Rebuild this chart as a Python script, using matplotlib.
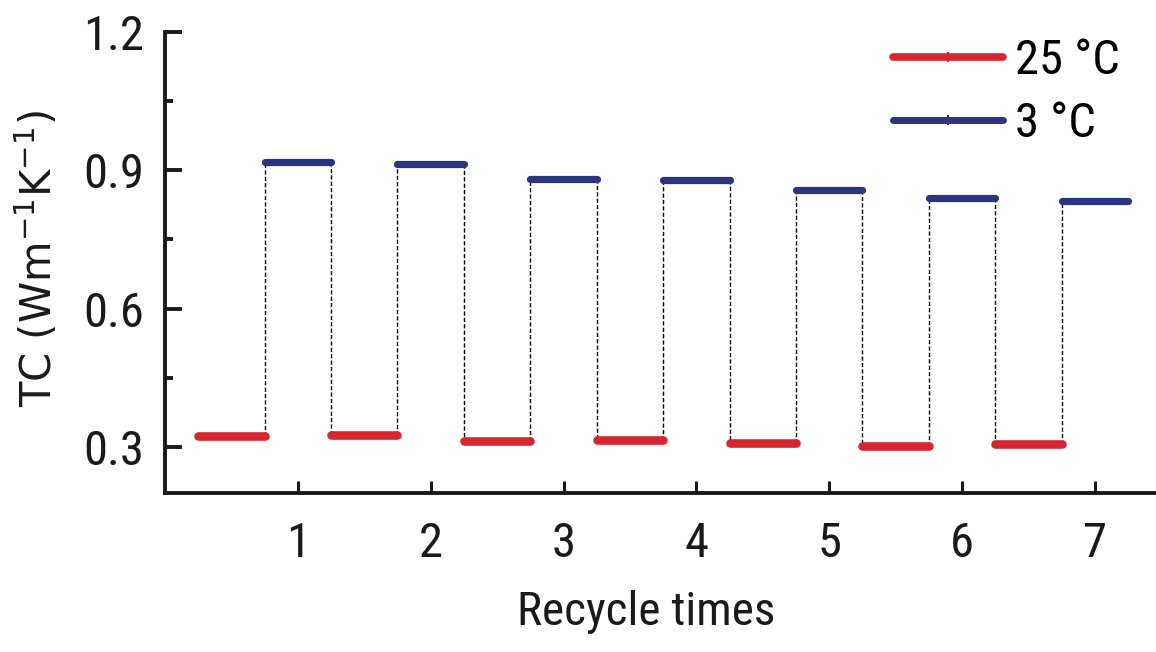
import os
import matplotlib
matplotlib.use("Agg")
import matplotlib.pyplot as plt
from matplotlib.lines import Line2D
from matplotlib.ticker import MultipleLocator
from matplotlib import font_manager
from matplotlib.font_manager import FontProperties

# Thermal conductivity over repeated heating/cooling cycles
cycles = [1, 2, 3, 4, 5, 6, 7]
tc_25C = [0.324, 0.327, 0.314, 0.316, 0.309, 0.303, 0.306]
tc_3C = [0.918, 0.914, 0.881, 0.879, 0.858, 0.840, 0.833]
series_labels = ["25 °C", "3 °C"]
y_ticks = [0.3, 0.6, 0.9, 1.2]

RED = "#d62630"
BLUE = "#2a3581"
INK = "#1a1a1a"


def condensed_sans():
    """Return the path of a regular-weight condensed sans-serif face, if any."""
    prefs = ["liberation sans narrow", "roboto condensed", "noto sans",
             "open sans", "dejavu sans", "lato", "inter"]
    found = []
    for f in font_manager.fontManager.ttflist:
        base = os.path.basename(f.fname).lower()
        key = (f.name + " " + base).lower()
        if "mono" in key or "serif" in key.replace("sans", ""):
            continue
        if "cjk" in key or "bold" in key or "italic" in key or "oblique" in key:
            continue
        if f.weight not in (400, "normal", "regular"):
            continue
        if f.style != "normal":
            continue
        narrowish = ("narrow" in key or "condensed" in key
                     or f.stretch in ("condensed", "extra-condensed"))
        if not narrowish or "semicondensed" in key or "extracondensed" in key:
            continue
        rank = len(prefs)
        for i, p in enumerate(prefs):
            if f.name.lower().startswith(p):
                rank = i
                break
        found.append((rank, f.fname))
    found.sort()
    return found[0][1] if found else None


path = condensed_sans()
if path:
    def fp(size):
        return FontProperties(fname=path, size=size)
    scale = 1.0
else:
    def fp(size):
        return FontProperties(family="Liberation Sans", size=size)
    scale = 0.86

plt.rcParams["font.family"] = ["Liberation Sans", "DejaVu Sans"]

fig = plt.figure(figsize=(11.56, 6.52), dpi=100)
ax = fig.add_axes([165 / 1156, 1 - 493.3 / 652, 1 - 165 / 1156, (493.3 - 31.7) / 652])

half = 0.25
for i, c in enumerate(cycles):
    r, b = tc_25C[i], tc_3C[i]
    # room-temperature segment then cold segment
    ax.plot([c - 3 * half, c - half], [r, r], color=RED, lw=6.2,
            solid_capstyle="round", zorder=3)
    ax.plot([c - half, c + half], [b, b], color=BLUE, lw=5.2,
            solid_capstyle="round", zorder=3)
    # dashed connectors between consecutive states
    ax.plot([c - half, c - half], [r, b], color="black", lw=1.0,
            ls=(0, (3, 1.6)), zorder=2)
    if i + 1 < len(cycles):
        nxt = tc_25C[i + 1]
        ax.plot([c + half, c + half], [b, nxt], color="black", lw=1.0,
                ls=(0, (3, 1.6)), zorder=2)

ax.set_xlim(0, 7.46)
ax.set_ylim(0.2, 1.2)
ax.set_xticks(cycles)
ax.set_xticklabels([str(c) for c in cycles])
ax.set_yticks(y_ticks)
ax.set_yticklabels([f"{v:.1f}" for v in y_ticks])
ax.yaxis.set_minor_locator(MultipleLocator(0.15))

for s in ["top", "right"]:
    ax.spines[s].set_visible(False)
for s in ["left", "bottom"]:
    ax.spines[s].set_linewidth(2.8)
    ax.spines[s].set_color(INK)

ax.tick_params(axis="y", which="major", direction="in", length=12, width=2.8,
               pad=15, colors=INK)
ax.tick_params(axis="y", which="minor", direction="in", length=6, width=2.8,
               colors=INK)
ax.tick_params(axis="x", which="major", direction="in", length=8.5, width=2.2,
               pad=20, colors=INK)
for lab in ax.get_xticklabels() + ax.get_yticklabels():
    lab.set_fontproperties(fp(35 * scale))

ax.set_xlabel("Recycle times", fontproperties=fp(34 * scale), color=INK)
ax.xaxis.set_label_coords(0.486, -0.21)
ax.set_ylabel(r"TC (Wm$^{-1}$K$^{-1}$)", fontsize=30, family="DejaVu Sans",
              color=INK, va="center")
ax.yaxis.set_label_coords(-0.129, 0.508)

handles = [
    Line2D([0], [0], color=RED, lw=5.5, solid_capstyle="round",
           marker="|", markersize=6.5, markeredgewidth=1.5),
    Line2D([0], [0], color=BLUE, lw=5.0, solid_capstyle="round",
           marker="|", markersize=6.5, markeredgewidth=1.5),
]
leg_fp = fp(35 * scale)
fs = leg_fp.get_size_in_points() * 100 / 72
fig.legend(handles, series_labels, loc="upper left",
           bbox_to_anchor=(893 / 1156, 1 - 38 / 652), frameon=False,
           prop=leg_fp, handlelength=110 / fs, handletextpad=12 / fs,
           labelspacing=(73 - 1.15 * fs) / fs, borderpad=0, borderaxespad=0,
           numpoints=1)

fig.savefig("out.png", dpi=100)
